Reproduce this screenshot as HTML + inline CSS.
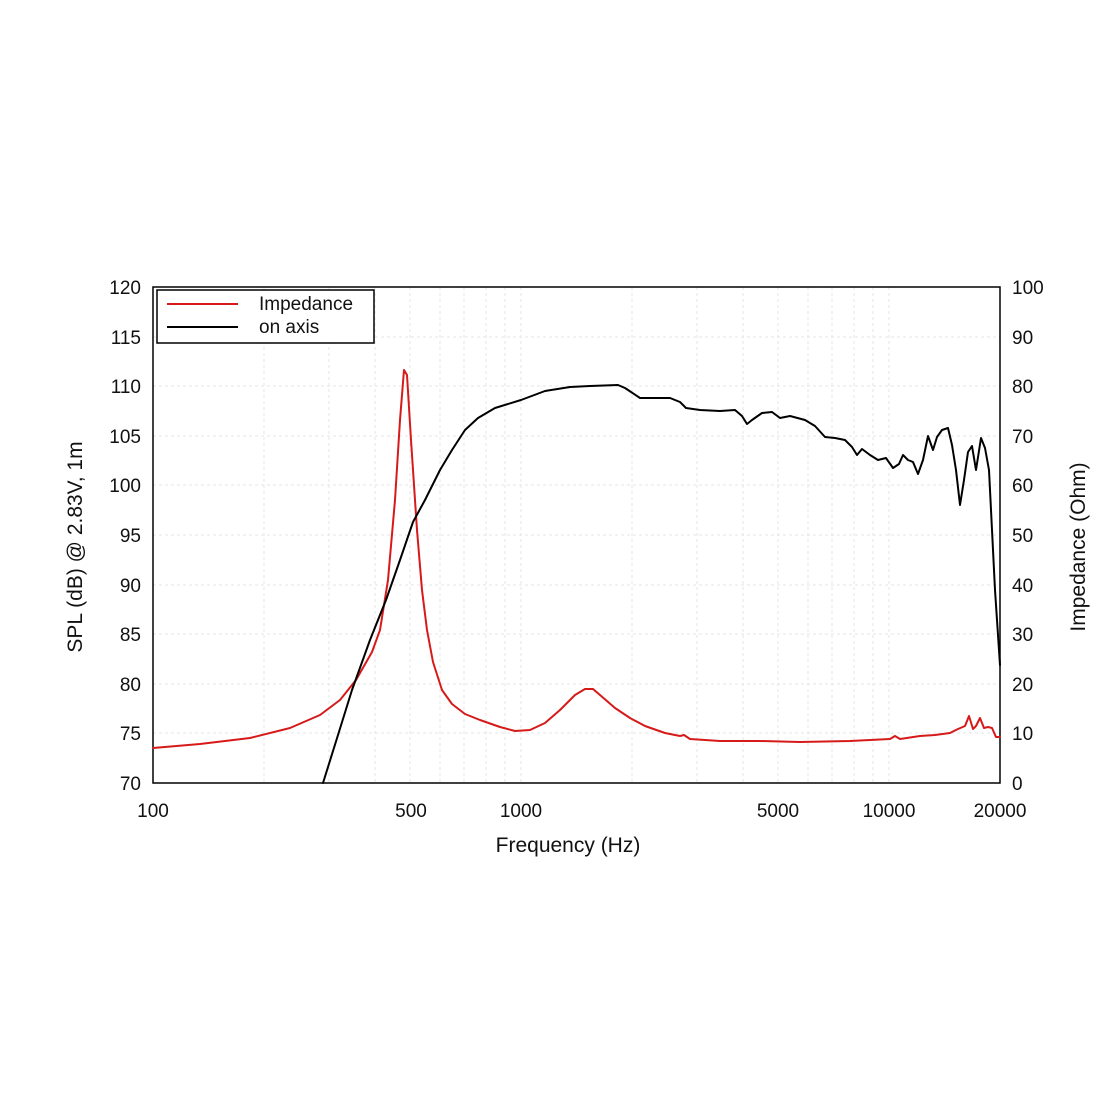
<!DOCTYPE html>
<html><head><style>body{margin:0;background:#fff}svg{display:block}</style></head><body>
<svg width="1109" height="1109" xmlns="http://www.w3.org/2000/svg" font-family="Liberation Sans, sans-serif">
<g stroke="#e6e6e6" stroke-dasharray="3,3" stroke-width="1">
<line x1="153" x2="1000" y1="337" y2="337"/><line x1="153" x2="1000" y1="386" y2="386"/><line x1="153" x2="1000" y1="436" y2="436"/><line x1="153" x2="1000" y1="485" y2="485"/><line x1="153" x2="1000" y1="535" y2="535"/><line x1="153" x2="1000" y1="585" y2="585"/><line x1="153" x2="1000" y1="634" y2="634"/><line x1="153" x2="1000" y1="684" y2="684"/><line x1="153" x2="1000" y1="733" y2="733"/>
<line x1="264" x2="264" y1="287" y2="783"/><line x1="329" x2="329" y1="287" y2="783"/><line x1="375" x2="375" y1="287" y2="783"/><line x1="410" x2="410" y1="287" y2="783"/><line x1="440" x2="440" y1="287" y2="783"/><line x1="464" x2="464" y1="287" y2="783"/><line x1="486" x2="486" y1="287" y2="783"/><line x1="505" x2="505" y1="287" y2="783"/><line x1="521" x2="521" y1="287" y2="783"/>
<line x1="632" x2="632" y1="287" y2="783"/><line x1="697" x2="697" y1="287" y2="783"/><line x1="743" x2="743" y1="287" y2="783"/><line x1="778" x2="778" y1="287" y2="783"/><line x1="808" x2="808" y1="287" y2="783"/><line x1="832" x2="832" y1="287" y2="783"/><line x1="854" x2="854" y1="287" y2="783"/><line x1="873" x2="873" y1="287" y2="783"/><line x1="889" x2="889" y1="287" y2="783"/>
</g>
<rect x="153" y="287" width="847" height="496" fill="none" stroke="#000" stroke-width="1.5"/>
<polyline fill="none" stroke="#d61a1a" stroke-width="2" stroke-linejoin="round" stroke-linecap="round" points="153,748 200,744 250,738 290,728 320,715 340,700 356,680 372,652 380,630 388,580 395,500 400,420 404,370 407,375 411,440 417,530 422,590 427,630 433,662 442,690 452,704 465,714 480,720 500,727 515,731 530,730 545,723 560,710 575,695 585,689 593,689 600,695 615,708 630,718 645,726 665,733 680,736 684,735 690,739 720,741 760,741 800,742 850,741 890,739 895,736 900,739 920,736 935,735 950,733 958,729 965,726 969,716 973,729 976,726 980,718 984,728 988,727 992,728 996,737 1000,737"/>
<polyline fill="none" stroke="#000" stroke-width="2" stroke-linejoin="round" stroke-linecap="round" points="323,783 338,735 352,690 370,640 386,600 400,560 413,522 425,500 440,470 452,450 465,430 478,418 495,408 521,400 545,391 570,387 590,386 618,385 625,388 640,398 655,398 670,398 680,402 686,408 700,410 720,411 735,410 742,416 747,424 752,420 762,413 772,412 780,418 790,416 805,420 815,426 825,437 835,438 845,440 852,447 857,455 862,449 870,455 878,460 886,458 893,468 899,464 903,455 908,460 913,462 918,474 923,460 928,436 933,450 937,437 942,430 948,428 952,445 956,470 960,505 964,480 968,452 972,446 976,470 981,438 985,448 989,470 992,530 995,590 1000,665"/>
<rect x="157" y="290" width="217" height="53" fill="#fff" stroke="#000" stroke-width="1.5"/>
<line x1="167" x2="238" y1="304" y2="304" stroke="#d61a1a" stroke-width="2"/>
<line x1="167" x2="238" y1="327" y2="327" stroke="#000" stroke-width="2"/>
<g font-size="19" fill="#111">
<text x="259" y="310">Impedance</text><text x="259" y="333">on axis</text>
<g text-anchor="end"><text x="141" y="294">120</text><text x="141" y="344">115</text><text x="141" y="393">110</text><text x="141" y="443">105</text><text x="141" y="492">100</text><text x="141" y="542">95</text><text x="141" y="592">90</text><text x="141" y="641">85</text><text x="141" y="691">80</text><text x="141" y="740">75</text><text x="141" y="790">70</text></g>
<g><text x="1012" y="294">100</text><text x="1012" y="344">90</text><text x="1012" y="393">80</text><text x="1012" y="443">70</text><text x="1012" y="492">60</text><text x="1012" y="542">50</text><text x="1012" y="592">40</text><text x="1012" y="641">30</text><text x="1012" y="691">20</text><text x="1012" y="740">10</text><text x="1012" y="790">0</text></g>
<g text-anchor="middle"><text x="153" y="817">100</text><text x="411" y="817">500</text><text x="521" y="817">1000</text><text x="778" y="817">5000</text><text x="889" y="817">10000</text><text x="1000" y="817">20000</text>
<text x="568" y="852" font-size="21">Frequency (Hz)</text>
<text transform="translate(82,547) rotate(-90)" font-size="21">SPL (dB) @ 2.83V, 1m</text>
<text transform="translate(1085,547) rotate(-90)" font-size="21">Impedance (Ohm)</text></g>
</g>
</svg>
</body></html>
